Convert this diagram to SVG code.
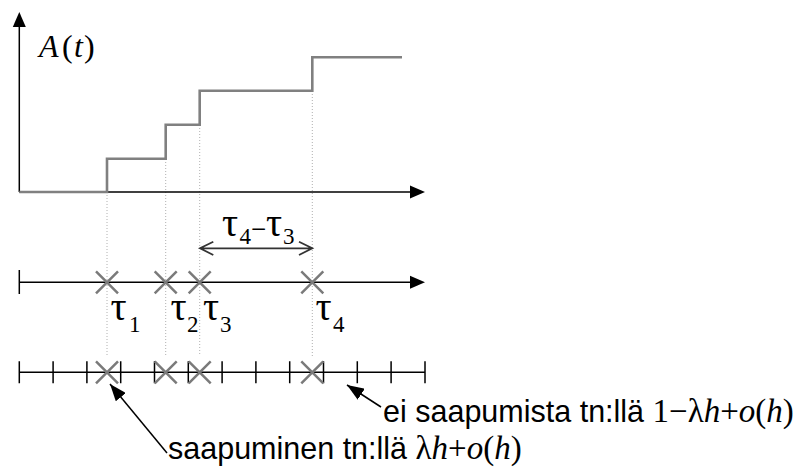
<svg xmlns="http://www.w3.org/2000/svg" width="801" height="468" viewBox="0 0 801 468">
<style>
.ax{stroke:#000;stroke-width:1.5;fill:none}
.step{stroke:#808080;stroke-width:2.6;fill:none}
.dot{stroke:#b0b0b0;stroke-width:1;stroke-dasharray:1 2;fill:none}
.x{stroke:#7a7a7a;stroke-width:2.5;fill:none}
.tick{stroke:#000;stroke-width:1.5}
.ser{font-family:"Liberation Serif","Times New Roman",serif;fill:#000}
.tau{font-size:40px}
.sub{font-size:23px}
.sans{font-family:"Liberation Sans",Arial,sans-serif;font-size:30.5px;fill:#000}
.math{font-family:"Liberation Serif","Times New Roman",serif;font-size:33px}
.it{font-style:italic}
.ann{stroke:#000;stroke-width:1.5;fill:none}
</style>
<defs>
<marker id="ah" markerUnits="userSpaceOnUse" markerWidth="17" markerHeight="13" viewBox="0 0 17 13" refX="17" refY="6.5" orient="auto">
<path d="M0,0 L17,6.5 L0,13 z" fill="#000"/>
</marker>
</defs>

<g id="dotted-guides">
<line class="dot" x1="107" y1="192" x2="107" y2="356"/>
<line class="dot" x1="165.7" y1="159" x2="165.7" y2="356"/>
<line class="dot" x1="199.7" y1="125" x2="199.7" y2="356"/>
<line class="dot" x1="312.3" y1="91" x2="312.3" y2="356"/>
</g>

<g id="plot">
<line class="ax" x1="19.3" y1="192" x2="19.3" y2="24"/>
<polygon points="19.3,12 12.8,27 25.8,27" fill="#000"/>
<line class="ax" x1="19.3" y1="192" x2="412" y2="192"/>
<polygon points="425,192 410,185.5 410,198.5" fill="#000"/>
<polyline class="step" points="19.3,192 107,192 107,158.7 165.7,158.7 165.7,124.7 199.7,124.7 199.7,90.7 312.3,90.7 312.3,57.3 402,57.3"/>
<text class="ser" font-size="32" y="57"><tspan x="39" font-style="italic">A</tspan><tspan x="62">(</tspan><tspan x="74" font-style="italic">t</tspan><tspan x="84">)</tspan></text>
</g>

<g id="timeline">
<line class="ax" x1="19.3" y1="282.3" x2="412" y2="282.3"/>
<line class="tick" x1="19.3" y1="270" x2="19.3" y2="294"/>
<polygon points="425,282.3 410,275.8 410,288.8" fill="#000"/>
<path class="x" d="M96,271.3 L118,293.3 M118,271.3 L96,293.3"/>
<path class="x" d="M154.7,271.3 L176.7,293.3 M176.7,271.3 L154.7,293.3"/>
<path class="x" d="M188.7,271.3 L210.7,293.3 M210.7,271.3 L188.7,293.3"/>
<path class="x" d="M301.3,271.3 L323.3,293.3 M323.3,271.3 L301.3,293.3"/>
<text class="ser tau" x="110.5" y="320">τ</text><text class="ser sub" x="129" y="332">1</text>
<text class="ser tau" x="170.5" y="320">τ</text><text class="ser sub" x="187" y="332">2</text>
<text class="ser tau" x="203" y="320">τ</text><text class="ser sub" x="220" y="332">3</text>
<text class="ser tau" x="315.5" y="320">τ</text><text class="ser sub" x="333" y="332">4</text>
</g>

<g id="interval">
<path d="M200,248.3 L312.3,248.3 M213.3,241.7 L200,248.3 L213.3,255 M299,241.7 L312.3,248.3 L299,255" stroke="#333" stroke-width="1.8" fill="none"/>
<text class="ser tau" x="222" y="236">τ</text><text class="ser sub" x="239.5" y="244">4</text>
<text class="ser" font-size="27" x="251" y="238">−</text>
<text class="ser tau" x="266" y="236">τ</text><text class="ser sub" x="283" y="244">3</text>
</g>

<g id="discrete">
<line class="ax" x1="19.3" y1="372.3" x2="425" y2="372.3"/>
<path class="tick" d="M19.3,361.3V383.3 M53.1,361.3V383.3 M86.9,361.3V383.3 M120.7,361.3V383.3 M154.5,361.3V383.3 M188.3,361.3V383.3 M222.1,361.3V383.3 M255.9,361.3V383.3 M289.7,361.3V383.3 M323.5,361.3V383.3 M357.3,361.3V383.3 M391.1,361.3V383.3 M425,361.3V383.3"/>
<path class="x" d="M96,361.3 L118,383.3 M118,361.3 L96,383.3"/>
<path class="x" d="M154.7,361.3 L176.7,383.3 M176.7,361.3 L154.7,383.3"/>
<path class="x" d="M188.7,361.3 L210.7,383.3 M210.7,361.3 L188.7,383.3"/>
<path class="x" d="M301.3,361.3 L323.3,383.3 M323.3,361.3 L301.3,383.3"/>
</g>

<g id="connectors">
<line class="ann" x1="167" y1="453" x2="110" y2="384" marker-end="url(#ah)"/>
<line class="ann" x1="381" y1="407" x2="347" y2="385" marker-end="url(#ah)"/>
</g>

<g id="label-no-arrival">
<text class="sans" x="383" y="422">ei saapumista tn:llä <tspan class="math">1−λ<tspan class="it">h</tspan>+<tspan class="it">o</tspan>(<tspan class="it">h</tspan>)</tspan></text>
</g>
<g id="label-arrival">
<text class="sans" x="168" y="459">saapuminen tn:llä <tspan class="math">λ<tspan class="it">h</tspan>+<tspan class="it">o</tspan>(<tspan class="it">h</tspan>)</tspan></text>
</g>
</svg>
